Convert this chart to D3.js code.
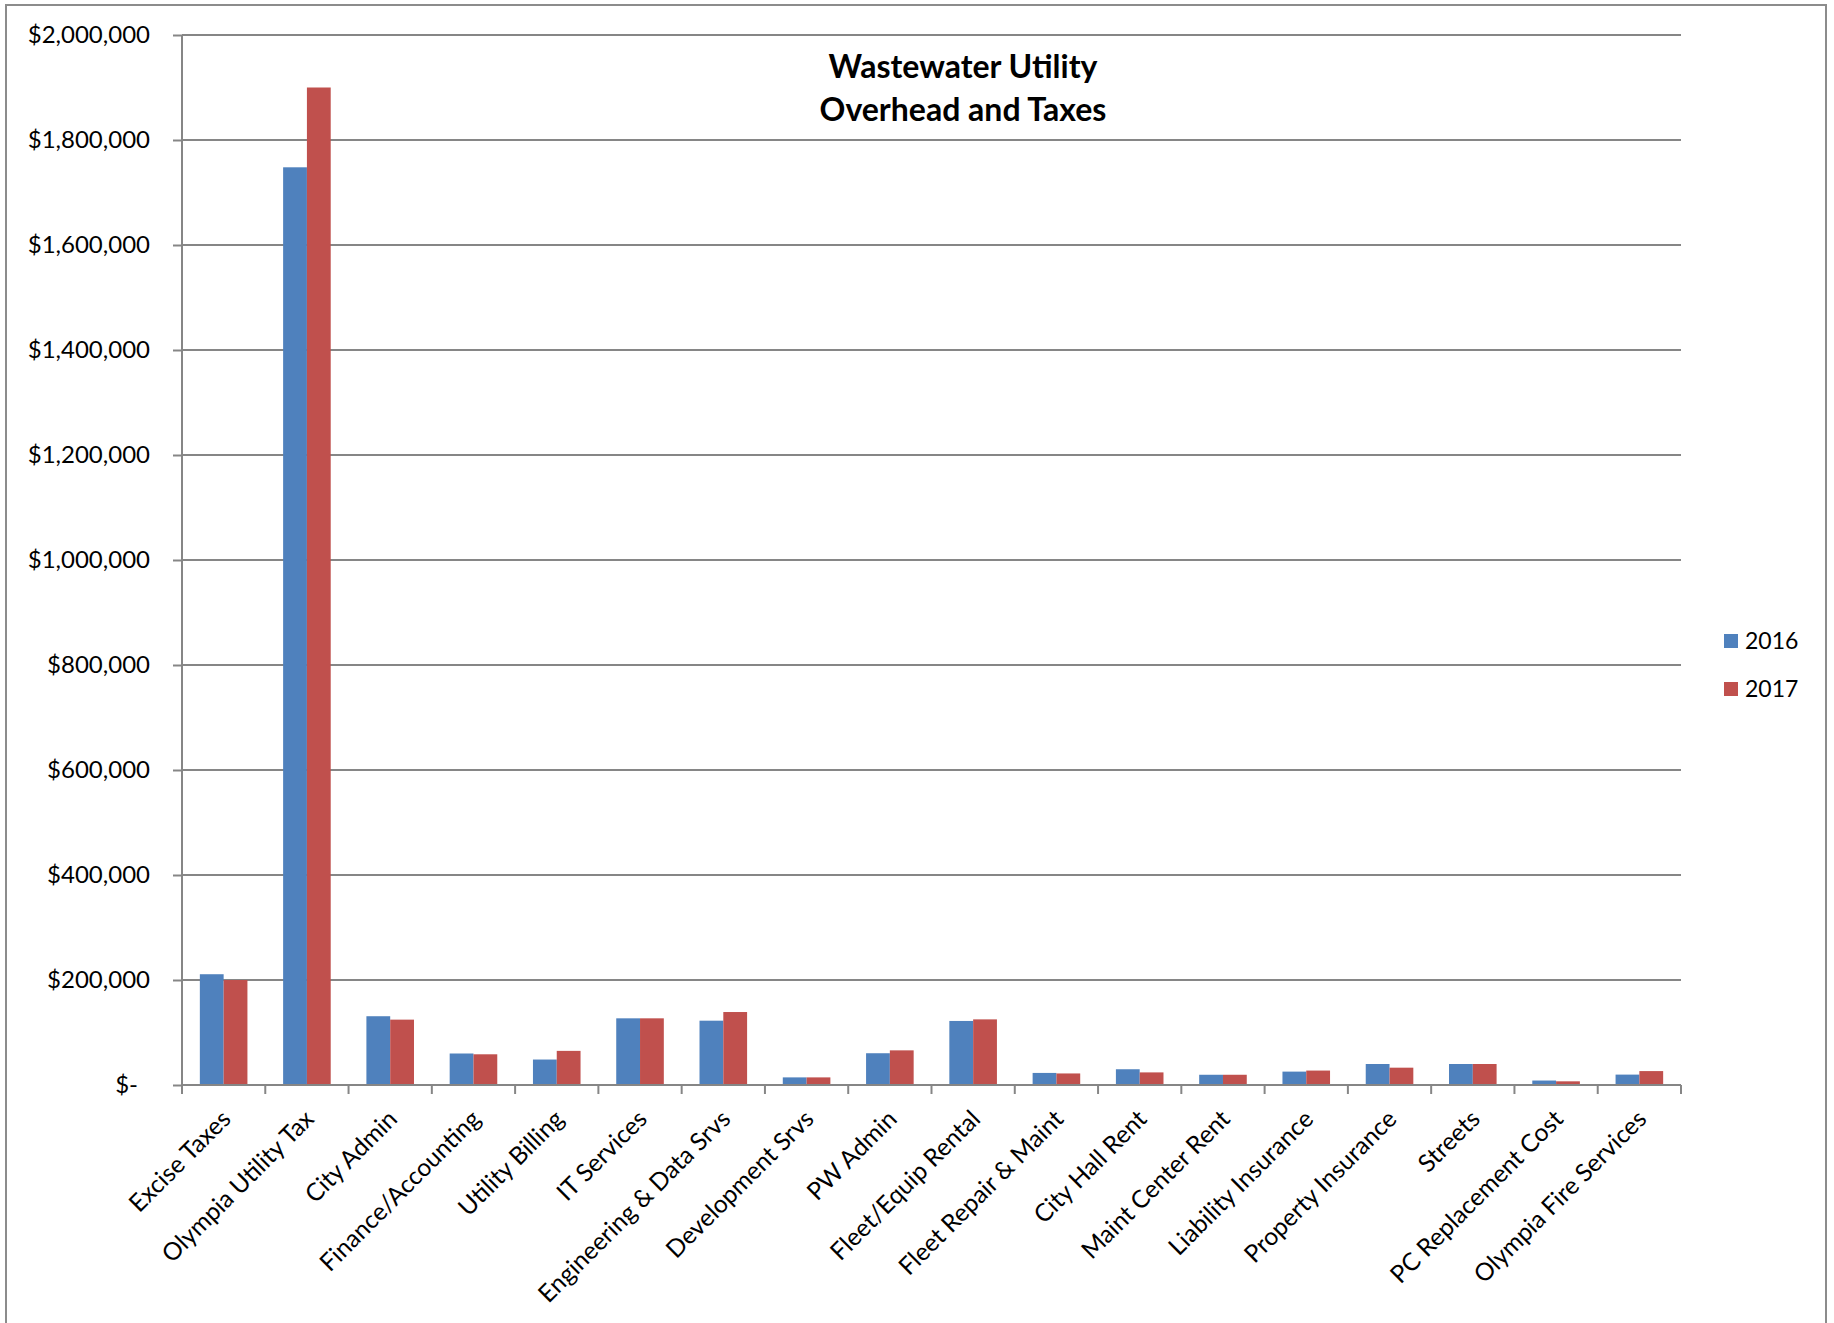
<!DOCTYPE html>
<html>
<head>
<meta charset="utf-8">
<script src="https://cdn.jsdelivr.net/npm/d3@7"></script>
<style>
  html, body { margin: 0; padding: 0; background: #fff; }
  svg { display: block; }
  text { font-family: Lato, "Open Sans", "DejaVu Sans", sans-serif; fill: #000; }
</style>
</head>
<body>
<svg id="chart" width="1834" height="1323"></svg>
<script>
// Overhead and tax allocations by category, 2016 vs 2017
const categories = [
  "Excise Taxes", "Olympia Utility Tax", "City Admin", "Finance/Accounting",
  "Utility Billing", "IT Services", "Engineering & Data Srvs", "Development Srvs",
  "PW Admin", "Fleet/Equip Rental", "Fleet Repair & Maint", "City Hall Rent",
  "Maint Center Rent", "Liability Insurance", "Property Insurance", "Streets",
  "PC Replacement Cost", "Olympia Fire Services"
];
const values2016 = [
  211000, 1748000, 131000, 60000, 48500, 127000, 122500, 14500,
  60500, 122000, 23000, 30000, 19500, 25500, 40000, 40000, 8500, 19800
];
const values2017 = [
  200000, 1900000, 124500, 58500, 65000, 127000, 139000, 14500,
  66000, 125000, 22000, 24000, 19500, 27500, 33000, 40000, 7000, 26500
];
const seriesNames = ["2016", "2017"];
const seriesColors = ["#4F81BD", "#C0504D"];
const yTicks = [0, 200000, 400000, 600000, 800000, 1000000, 1200000, 1400000, 1600000, 1800000, 2000000];
const titleLines = ["Wastewater Utility", "Overhead and Taxes"];

const svg = d3.select("#chart");
const plot = { left: 182, right: 1681, top: 35, bottom: 1085 };
const gridColor = "#868686";

// outer chart frame (bottom edge runs past the page)
svg.append("rect")
  .attr("x", 6).attr("y", 5)
  .attr("width", 1820).attr("height", 1340)
  .attr("fill", "none").attr("stroke", "#8c8c8c").attr("stroke-width", 2);

const x0 = d3.scaleBand().domain(categories).range([plot.left, plot.right]).paddingInner(0).paddingOuter(0);
const x1 = d3.scaleBand().domain(seriesNames).range([0, x0.bandwidth()]).paddingInner(0).paddingOuter(0.75);
const y = d3.scaleLinear().domain([0, 2000000]).range([plot.bottom, plot.top]);

// horizontal gridlines
svg.append("g").selectAll("line").data(yTicks.filter(d => d > 0)).join("line")
  .attr("x1", plot.left).attr("x2", plot.right)
  .attr("y1", d => y(d)).attr("y2", d => y(d))
  .attr("stroke", gridColor).attr("stroke-width", 2);

// bars
const rows = categories.map((c, i) => ({ cat: c, vals: [values2016[i], values2017[i]] }));
const groups = svg.append("g").selectAll("g").data(rows).join("g")
  .attr("transform", d => `translate(${x0(d.cat)},0)`);
groups.selectAll("rect").data(d => d.vals.map((v, k) => ({ key: seriesNames[k], v, k }))).join("rect")
  .attr("x", d => x1(d.key))
  .attr("width", x1.bandwidth())
  .attr("y", d => y(d.v))
  .attr("height", d => y(0) - y(d.v))
  .attr("fill", d => seriesColors[d.k]);

// y axis
const yAxis = d3.axisLeft(y).tickValues(yTicks).tickSize(9).tickPadding(23)
  .tickFormat(d => d === 0 ? "$-" : d3.format("$,")(d));
const gy = svg.append("g").attr("transform", `translate(${plot.left},0)`).call(yAxis);
gy.select(".domain").attr("stroke", gridColor).attr("stroke-width", 2).attr("d", `M0,${plot.top}V${plot.bottom}`);
gy.selectAll(".tick line").attr("stroke", gridColor).attr("stroke-width", 2);
gy.selectAll(".tick text")
  .style("font-size", "24px").attr("fill", "#000")
  .attr("dx", d => d === 0 ? -12 : 0);

// x axis baseline and category boundary ticks
svg.append("line")
  .attr("x1", plot.left).attr("x2", plot.right)
  .attr("y1", plot.bottom).attr("y2", plot.bottom)
  .attr("stroke", gridColor).attr("stroke-width", 2);
const boundaries = categories.map(c => x0(c)).concat([plot.right]);
svg.append("g").selectAll("line").data(boundaries).join("line")
  .attr("x1", d => d).attr("x2", d => d)
  .attr("y1", plot.bottom).attr("y2", plot.bottom + 9)
  .attr("stroke", gridColor).attr("stroke-width", 2);

// rotated category labels
const xAxis = d3.axisBottom(x0).tickSize(0).tickPadding(0);
const gx = svg.append("g").attr("transform", `translate(0,${plot.bottom})`).call(xAxis);
gx.select(".domain").remove();
gx.selectAll(".tick text")
  .style("font-size", "24.5px").attr("fill", "#000")
  .attr("text-anchor", "end")
  .attr("dy", null).attr("y", null)
  .attr("transform", "translate(-5,22) rotate(-45)")
  .attr("dominant-baseline", "hanging");

// title
svg.append("g").selectAll("text").data(titleLines).join("text")
  .attr("x", 963).attr("y", (d, i) => 78 + i * 43)
  .attr("text-anchor", "middle")
  .style("font-size", "32px").style("font-weight", "bold")
  .text(d => d);

// legend
const legend = svg.append("g").selectAll("g").data(seriesNames).join("g")
  .attr("transform", (d, i) => `translate(1724,${634 + i * 48})`);
legend.append("rect").attr("width", 14).attr("height", 14).attr("fill", (d, i) => seriesColors[i]);
legend.append("text").attr("x", 21).attr("y", 15).style("font-size", "23px").text(d => d);
</script>
</body>
</html>
